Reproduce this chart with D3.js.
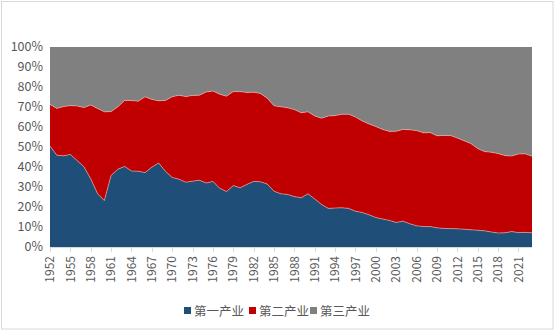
<!DOCTYPE html>
<html>
<head>
<meta charset="utf-8">
<script src="https://cdn.jsdelivr.net/npm/d3@7/dist/d3.min.js"></script>
<style>
  html, body { margin: 0; padding: 0; background: #fff; }
  svg { display: block; }
  text { font-family: "Noto Sans CJK SC", "Noto Sans", sans-serif; fill: #595959; }
</style>
</head>
<body>
<svg id="chart" width="555" height="332"></svg>
<script>
// GDP structure by industry, share of total (%)
const years = [
  1952,1953,1954,1955,1956,1957,1958,1959,1960,1961,1962,1963,1964,1965,1966,1967,1968,1969,
  1970,1971,1972,1973,1974,1975,1976,1977,1978,1979,1980,1981,1982,1983,1984,1985,1986,1987,
  1988,1989,1990,1991,1992,1993,1994,1995,1996,1997,1998,1999,2000,2001,2002,2003,2004,2005,
  2006,2007,2008,2009,2010,2011,2012,2013,2014,2015,2016,2017,2018,2019,2020,2021,2022,2023
];
const primary = [
  50.5,45.9,45.6,46.3,43.2,40.1,34.1,26.7,23.2,35.8,38.9,40.3,38.0,37.9,37.2,39.9,42.0,37.9,
  34.8,33.9,32.4,32.9,33.4,32.0,32.8,29.4,27.7,30.7,29.6,31.3,32.8,32.6,31.5,27.9,26.6,26.3,
  25.2,24.6,26.6,24.0,21.3,19.3,19.5,19.6,19.3,17.9,17.2,16.1,14.7,14.0,13.3,12.3,12.9,11.6,
  10.6,10.2,10.2,9.6,9.3,9.2,9.1,8.9,8.6,8.4,8.1,7.5,7.0,7.1,7.7,7.2,7.3,7.1
];
const secondary = [
  20.8,23.4,24.6,24.4,27.3,29.6,36.9,42.6,44.4,31.9,31.2,33.0,35.2,35.0,37.9,33.9,31.1,35.4,
  40.3,42.0,42.8,42.9,42.5,45.5,45.2,47.0,47.7,47.0,48.1,46.0,44.6,44.2,42.9,42.7,43.5,43.3,
  43.5,42.5,41.0,41.5,43.1,46.2,46.2,46.8,47.1,47.1,45.8,45.4,45.5,44.8,44.5,45.6,45.9,47.0,
  47.6,46.9,47.0,46.0,46.5,46.5,45.4,44.2,43.1,40.8,39.6,39.9,39.7,38.6,37.8,39.3,39.3,38.3
];
const tertiary = [
  28.7,30.7,29.8,29.3,29.5,30.3,29.0,30.7,32.4,32.3,29.9,26.7,26.8,27.1,24.9,26.2,26.9,26.7,
  24.9,24.1,24.8,24.2,24.1,22.5,22.0,23.6,24.6,22.3,22.3,22.7,22.6,23.2,25.6,29.4,29.9,30.4,
  31.3,32.9,32.4,34.5,35.6,34.5,34.3,33.6,33.6,35.0,37.0,38.5,39.8,41.2,42.2,42.1,41.2,41.4,
  41.8,42.9,42.8,44.4,44.2,44.3,45.5,46.9,48.3,50.8,52.3,52.6,53.3,54.3,54.5,53.5,53.4,54.6
];
const seriesNames = ["第一产业", "第二产业", "第三产业"];
const seriesColors = ["#1F4E79", "#C00000", "#808080"];
const yTicks = [0, 0.1, 0.2, 0.3, 0.4, 0.5, 0.6, 0.7, 0.8, 0.9, 1.0];
const labelStep = 3;

const rows = years.map((y, i) => ({
  year: y,
  [seriesNames[0]]: primary[i],
  [seriesNames[1]]: secondary[i],
  [seriesNames[2]]: tertiary[i]
}));

const svg = d3.select("#chart");
const W = 555, H = 332;
const m = { left: 50, right: 23, top: 47, bottom: 85 };

// outer chart frame
svg.append("rect")
  .attr("x", 1.5).attr("y", 1.5)
  .attr("width", W - 3.5).attr("height", H - 4.5)
  .attr("fill", "#fff").attr("stroke", "#d9d9d9").attr("stroke-width", 1);

const x = d3.scalePoint().domain(years).range([m.left, W - m.right]);
const y = d3.scaleLinear().domain([0, 1]).range([H - m.bottom, m.top]);

const stack = d3.stack().keys(seriesNames).offset(d3.stackOffsetExpand);
const layers = stack(rows);

const area = d3.area()
  .x(d => x(d.data.year))
  .y0(d => y(d[0]))
  .y1(d => y(d[1]));

svg.append("g").selectAll("path")
  .data(layers)
  .join("path")
  .attr("d", area)
  .attr("fill", (d, i) => seriesColors[i]);

// thin light edges along the boundaries of the lower two bands
const edge = d3.line().x(d => x(d.data.year)).y(d => y(d[1]));
svg.append("g").selectAll("path")
  .data(layers.slice(0, 2))
  .join("path")
  .attr("d", edge)
  .attr("fill", "none")
  .attr("stroke", "#f2b8b8")
  .attr("stroke-opacity", 0.7)
  .attr("stroke-width", 0.8);

// y axis labels
svg.append("g").selectAll("text")
  .data(yTicks)
  .join("text")
  .attr("x", 43)
  .attr("y", d => y(d))
  .attr("dy", "0.35em")
  .attr("text-anchor", "end")
  .attr("font-size", 12.5)
  .text(d => d3.format(".0%")(d));

// x axis
const xAxisY = H - m.bottom;
svg.append("line")
  .attr("x1", m.left).attr("x2", W - m.right)
  .attr("y1", xAxisY + 0.5).attr("y2", xAxisY + 0.5)
  .attr("stroke", "#d9d9d9");

const shown = years.filter((yr, i) => i % labelStep === 0);
svg.append("g").selectAll("line")
  .data(shown)
  .join("line")
  .attr("x1", d => Math.round(x(d)) + 0.5).attr("x2", d => Math.round(x(d)) + 0.5)
  .attr("y1", xAxisY).attr("y2", xAxisY + 5)
  .attr("stroke", "#d9d9d9");

svg.append("g").selectAll("text")
  .data(shown)
  .join("text")
  .attr("transform", d => `translate(${x(d)},${xAxisY + 9}) rotate(-90)`)
  .attr("dy", "0.35em")
  .attr("text-anchor", "end")
  .attr("font-size", 12)
  .text(d => d);

// legend
const legend = svg.append("g");
const legendX = [184, 249, 310];
seriesNames.forEach((name, i) => {
  legend.append("rect")
    .attr("x", legendX[i]).attr("y", 307)
    .attr("width", 7).attr("height", 7)
    .attr("fill", seriesColors[i]);
  legend.append("text")
    .attr("x", legendX[i] + 10).attr("y", 311)
    .attr("dy", "0.36em")
    .attr("font-size", 12.5)
    .text(name);
});
</script>
</body>
</html>
